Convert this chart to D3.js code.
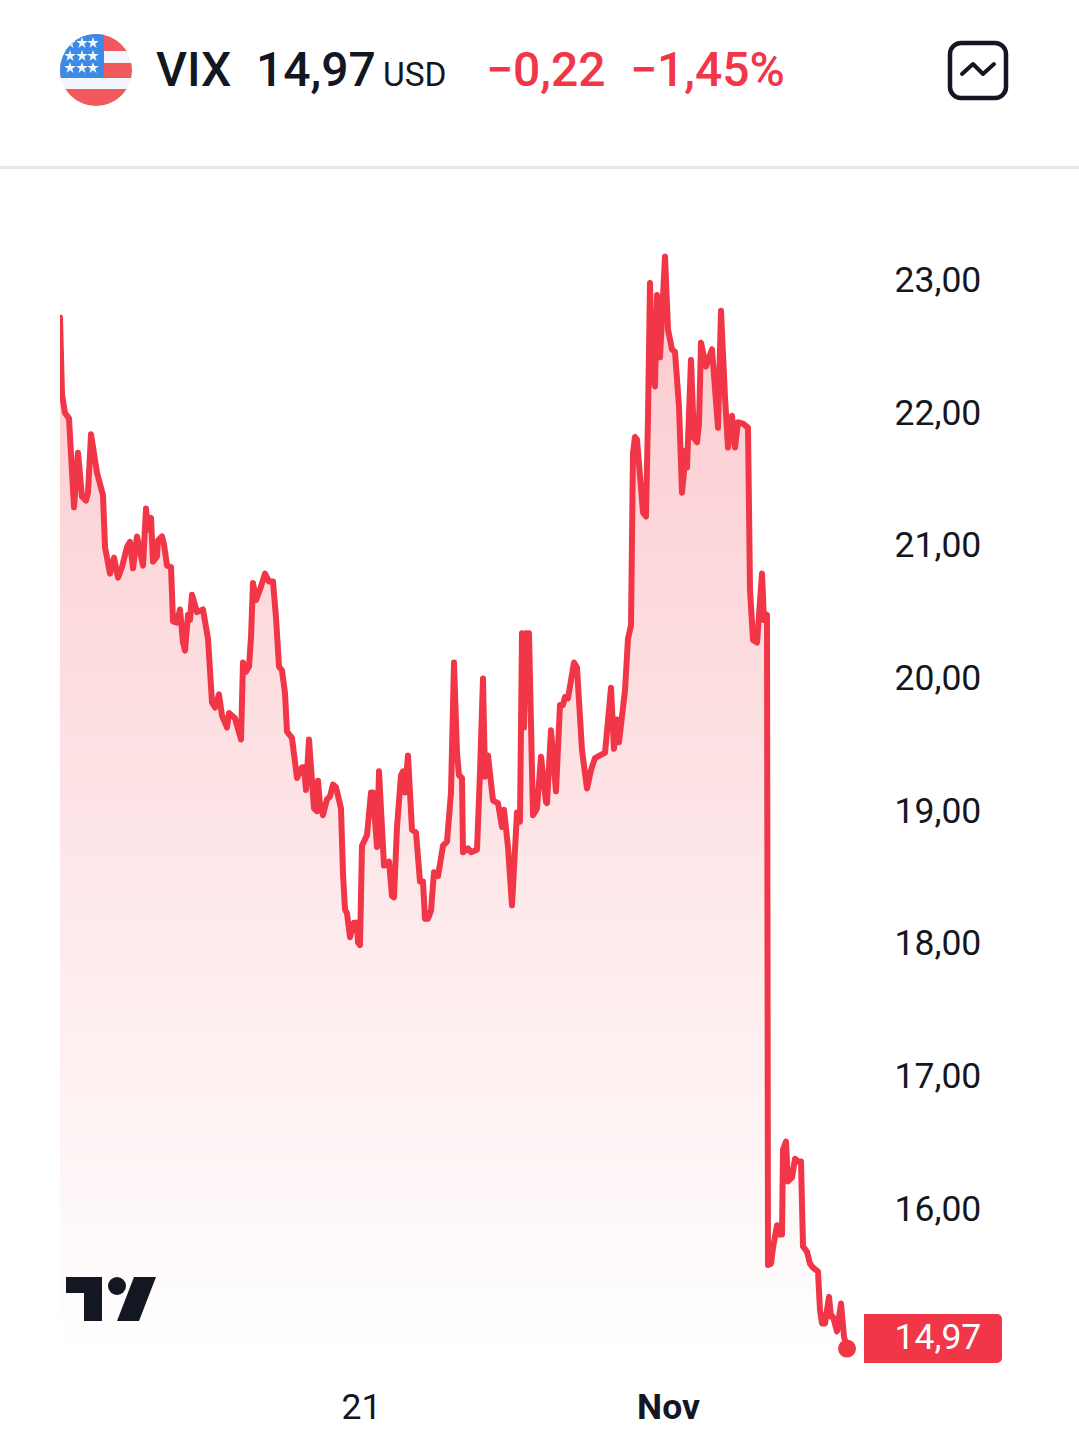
<!DOCTYPE html>
<html><head><meta charset="utf-8">
<style>
html,body{margin:0;padding:0;background:#fff;overflow:hidden}
svg{display:block;font-family:Roboto,sans-serif}
</style>
<script src="https://cdn.jsdelivr.net/npm/d3@7"></script>
</head><body>
<svg id="c" width="1079" height="1452"></svg>
<script>
const symbol="VIX", lastPrice=14.97, currency="USD", change="−0,22", changePct="−1,45%";
const priceTicks=[23,22,21,20,19,18,17,16];
const timeTickBars=[300,607];
const timeTickLabels=["21","Nov"];
const bars=[0,2,5,9,14,18,22,26,28,31,37,43,45,50,54,58,62,67,70,73,77,83,86,88,91,93,97,98,102,104,107,111,113,117,120,123,125,128,130,132,137,143,148,152,155,159,162,167,169,175,181,183,186,189,191,193,196,200,205,209,213,216,219,222,225,227,232,237,242,244,246,249,254,257,258,260,263,267,270,273,276,281,283,285,287,290,294,297,298,300,302,307,311,313,317,319,324,329,332,334,337,341,343,345,348,352,356,360,363,365,368,371,374,378,383,387,391,394,397,399,402,403,408,411,417,420,423,425,428,433,438,442,444,448,452,455,457,460,462,464,466,469,473,477,481,486,487,491,496,500,503,505,508,514,517,522,527,531,535,540,545,551,554,557,559,565,568,571,573,575,577,583,586,588,590,592,595,597,600,605,608,612,615,619,622,626,627,631,634,637,639,641,646,652,658,661,665,668,672,675,678,683,688,690,693,697,702,704,707,708,711,713,717,719,722,723,726,728,732,735,738,741,743,747,750,753,758,760,762,765,769,771,773,777,781,784,787];
const closes=[22.74,22.16,22.02,21.98,21.31,21.72,21.39,21.36,21.42,21.86,21.57,21.40,21.01,20.81,20.93,20.78,20.86,21.01,21.05,20.85,21.09,20.87,21.30,21.14,21.23,20.90,20.94,21.06,21.09,21.03,20.87,20.86,20.45,20.44,20.54,20.29,20.23,20.50,20.46,20.65,20.52,20.54,20.32,19.84,19.80,19.90,19.74,19.65,19.76,19.72,19.56,20.14,20.07,20.11,20.33,20.74,20.61,20.69,20.81,20.75,20.75,20.48,20.11,20.08,19.91,19.62,19.57,19.27,19.35,19.35,19.18,19.56,19.04,19.02,19.25,19.07,18.99,19.11,19.13,19.22,19.20,19.04,18.55,18.28,18.25,18.07,18.18,18.18,18.03,18.01,18.76,18.84,19.16,19.16,18.75,19.32,18.61,18.64,18.38,18.37,18.90,19.29,19.32,19.16,19.44,18.88,18.86,18.49,18.49,18.21,18.21,18.27,18.56,18.53,18.76,18.79,19.16,20.14,19.46,19.29,19.27,18.71,18.74,18.71,18.73,19.31,20.02,19.28,19.44,19.10,19.08,18.90,19.03,18.75,18.31,18.73,19.01,18.94,20.36,19.65,20.36,20.36,18.99,19.04,19.43,19.09,19.08,19.63,19.17,19.82,19.82,19.88,19.87,20.14,20.10,19.48,19.19,19.33,19.42,19.44,19.46,19.95,19.49,19.71,19.54,19.93,20.32,20.42,21.72,21.84,21.82,21.27,21.24,21.99,23.00,22.34,22.22,22.91,22.44,23.20,22.65,22.50,22.48,22.07,21.42,21.74,21.61,22.42,21.83,21.80,21.94,22.55,22.37,22.50,21.91,22.79,22.14,21.76,22.00,21.76,21.95,21.94,21.91,20.69,20.31,20.29,20.81,20.46,20.50,15.60,15.61,15.73,15.90,15.83,15.83,16.47,16.53,16.23,16.26,16.40,16.38,16.38,15.74,15.70,15.61,15.58,15.55,15.26,15.16,15.16,15.36,15.21,15.21,15.10,15.31,15.06,14.97];

const RED="#f13647", INK="#131722";
const svg=d3.select("#c");
const x=d3.scaleLinear().domain([0,787]).range([60,847]);
const y=d3.scaleLinear().domain([14.97,23]).range([1348.6,283]);
const comma=v=>v.toFixed(2).replace(".",",");
const points=bars.map((b,i)=>[b,closes[i]]);

const defs=svg.append("defs");
const g=defs.append("linearGradient").attr("id","fill").attr("gradientUnits","userSpaceOnUse")
  .attr("x1",0).attr("x2",0).attr("y1",257).attr("y2",1360);
g.append("stop").attr("offset",0).attr("stop-color",RED).attr("stop-opacity",.27);
g.append("stop").attr("offset",1).attr("stop-color",RED).attr("stop-opacity",0);
defs.append("clipPath").attr("id","plot").append("rect").attr("x",60).attr("y",200).attr("width",800).attr("height",1170);
defs.append("clipPath").attr("id","flag").append("circle").attr("cx",96).attr("cy",70).attr("r",36);

// header
const fl=svg.append("g").attr("clip-path","url(#flag)");
[[34,17,"#f05a5c"],[51,12,"#f2f5f9"],[63,15,"#f05a5c"],[78,11,"#f2f5f9"],[89,17,"#f05a5c"]].forEach(s=>
  fl.append("rect").attr("x",60).attr("y",s[0]).attr("width",72).attr("height",s[1]).attr("fill",s[2]));
fl.append("rect").attr("x",60).attr("y",34).attr("width",44).attr("height",44).attr("fill","#3b8ae6");
[43,56,68].forEach(sy=>[70,82,93].forEach(sx=>
  fl.append("path").attr("d",d3.symbol(d3.symbolStar,42)()).attr("transform",`translate(${sx},${sy})`).attr("fill","#f2f7fc")));

const hdr=(t,px,size,weight,fill)=>svg.append("text").text(t).attr("x",px).attr("y",86)
  .attr("font-size",size).attr("font-weight",weight).attr("fill",fill);
hdr(symbol,156,48,500,INK);
hdr(comma(lastPrice),256,48,500,INK);
hdr(currency,383,33.5,400,INK);
hdr(change,486,48,500,RED);
hdr(changePct,630,48,500,RED);

svg.append("rect").attr("x",950).attr("y",43).attr("width",56).attr("height",55).attr("rx",11)
  .attr("fill","none").attr("stroke",INK).attr("stroke-width",4.5);
svg.append("path").attr("d",d3.line()([[962,74],[973,64],[983,74],[994,64]])).attr("fill","none")
  .attr("stroke",INK).attr("stroke-width",4).attr("stroke-linecap","round").attr("stroke-linejoin","round");
svg.append("rect").attr("x",0).attr("y",166).attr("width",1079).attr("height",3).attr("fill","#e6e8ea");

// area and line
const plot=svg.append("g").attr("clip-path","url(#plot)");
plot.append("path").attr("d",d3.area().x(d=>x(d[0])).y0(1360).y1(d=>y(d[1]))(points)).attr("fill","url(#fill)");
plot.append("path").attr("d",d3.line().x(d=>x(d[0])).y(d=>y(d[1]))(points)).attr("fill","none")
  .attr("stroke",RED).attr("stroke-width",6).attr("stroke-linejoin","round").attr("stroke-linecap","round");
svg.append("circle").attr("cx",x(bars[bars.length-1])).attr("cy",y(lastPrice)).attr("r",9).attr("fill",RED);

// logo
svg.append("path").attr("d","M66 1277H102V1321H84V1293H66Z M134 1277H156L139 1321H117Z").attr("fill",INK);
svg.append("circle").attr("cx",117).attr("cy",1286).attr("r",9).attr("fill",INK);

// axes
const ya=svg.append("g").attr("transform","translate(894.5,-4)")
  .call(d3.axisRight(y).tickValues(priceTicks).tickFormat(comma).tickSize(0).tickPadding(0));
ya.select(".domain").remove();
ya.selectAll("text").attr("font-family","Roboto,sans-serif").attr("font-size",35.5).attr("fill",INK).attr("x",0).attr("dy","0.35em");

const xa=svg.append("g").attr("transform","translate(1,1407)")
  .call(d3.axisBottom(x).tickValues(timeTickBars).tickFormat((d,i)=>timeTickLabels[i]).tickSize(0).tickPadding(0));
xa.select(".domain").remove();
xa.selectAll("text").attr("font-family","Roboto,sans-serif").attr("font-size",35.5).attr("fill",INK).attr("y",0).attr("dy","0.35em")
  .attr("font-weight",(d,i)=>i===1?700:400);

// last price tag
svg.append("path").attr("d","M864 1314H997a5 5 0 0 1 5 5V1358a5 5 0 0 1 -5 5H864Z").attr("fill",RED);
svg.append("text").text(comma(lastPrice)).attr("x",894.5).attr("y",1337).attr("dy","0.35em")
  .attr("font-size",35.5).attr("fill","#fff");
</script>
</body></html>
